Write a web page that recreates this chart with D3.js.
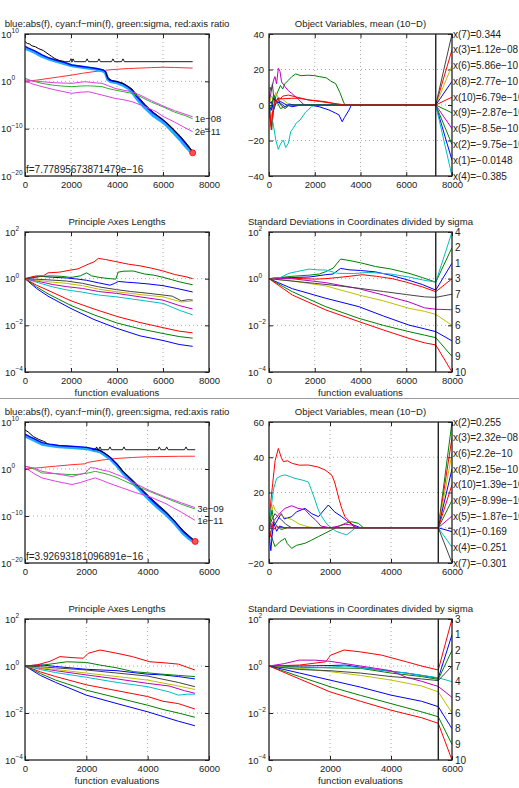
<!DOCTYPE html>
<html>
<head>
<meta charset="utf-8">
<script src="https://cdn.jsdelivr.net/npm/d3@7"></script>
<style>
  body { margin: 0; background: #fff; }
  svg { display: block; }
  text { font-family: "Liberation Sans", Arial, sans-serif; fill: #222; }
</style>
</head>
<body>
<svg id="chart" width="519" height="788"></svg>
<script>
// ---------- data (x = function evaluations, log panels hold log10 values) ----------
const topEvals = 7290;
const botEvals = 5550;

// run 1: f-values panel
const topBlue = [[0,7.4],[150,7.0],[400,6.5],[740,5.6],[1000,5.0],[1320,4.5],[1700,4.0],[2040,3.45],[2400,3.2],[2770,2.95],[3100,2.7],[3400,2.4],[3500,2.0],[3600,0.6],[3700,0.2],[4000,-0.1],[4220,-0.4],[4500,-1.2],[4650,-1.8],[4855,-3.2],[5200,-5.0],[5570,-6.7],[5900,-7.8],[6160,-8.8],[6450,-10.2],[6740,-11.7],[7000,-13.2],[7290,-14.9]];
const topCyan = [[0,7.0],[150,6.7],[400,6.2],[740,5.3],[1000,4.8],[1320,4.3],[1700,3.8],[2040,3.3],[2400,3.05],[2770,2.8],[3100,2.55],[3400,2.2],[3500,1.8],[3600,0.4],[3700,0.0],[4000,-0.3],[4220,-0.7],[4500,-1.5],[4650,-2.2],[4855,-3.6],[5200,-5.5],[5570,-7.2],[5900,-8.3],[6160,-9.3],[6450,-10.8],[6740,-12.3],[7000,-13.8],[7290,-15.3]];
const topBlackHead = [[0,8.4],[100,8.0],[200,7.9],[300,7.5],[450,7.3],[600,6.9],[800,6.5],[1000,5.8],[1150,5.3],[1300,4.8],[1500,4.4],[1700,4.2]];
const topBlackTail = [[3500,2.1],[3600,0.8],[3800,0.1],[4000,0.0],[4300,-0.5],[4650,-1.6],[4900,-3.1],[5200,-4.8],[5570,-6.5],[6000,-8.1],[6300,-9.4],[6740,-11.5],[7000,-13.0],[7290,-14.8]];
const topFlatLevel = 4.15;
const topFlatStart = 1700;
const topSpikes = [2000, 2087, 2700, 3217, 3826, 4260];
const topRed = [[0,0],[500,0.25],[1000,0.6],[1500,0.95],[2000,1.3],[2500,1.7],[3000,2.05],[3500,2.35],[4000,2.55],[4500,2.7],[5000,2.8],[5500,2.9],[6000,2.98],[6500,2.92],[7290,2.8]];
const topGreen = [[0,0.65],[300,0.1],[740,-0.43],[1200,-0.8],[1600,-1.0],[2040,-1.13],[2400,-1.0],[2700,-0.95],[3000,-1.0],[3350,-1.13],[3600,-1.5],[3910,-1.84],[4300,-2.2],[4650,-2.55],[5000,-3.2],[5500,-4.4],[6000,-5.4],[6500,-6.5],[7000,-7.3],[7290,-7.9]];
const topMagUp = [[0,0.3],[300,0.1],[740,-0.08],[1300,-0.3],[2040,-0.43],[2400,-0.2],[2620,-0.08],[3000,-0.3],[3350,-0.42],[3600,-0.9],[3910,-1.48],[4300,-1.9],[4650,-2.2],[5000,-2.9],[5500,-4.1],[6000,-5.2],[6500,-6.2],[7000,-7.0],[7290,-7.5]];
const topMagLow = [[0,0.1],[300,-0.5],[740,-1.13],[1300,-1.8],[2040,-2.54],[2400,-2.3],[2770,-2.2],[3100,-2.6],[3350,-2.9],[3910,-3.6],[4300,-3.9],[4650,-4.3],[5200,-5.3],[5700,-6.4],[6000,-7.4],[6500,-8.6],[7000,-9.9],[7290,-10.65]];
const topFinalF = -15.11;
const topFText = "f=7.77895673871479e\u221216";
const topSigmaText = "1e\u221208";
const topMinStdText = "2e\u221211";

// run 1: object variables (mean), x(1)..x(10)
const topX1 = [[0,0],[100,2],[200,-3],[300,1],[500,2],[700,0.5],[1000,-1],[1400,0],[1800,0],[2200,-1],[2620,-2.8],[2900,-4.5],[3060,-5.6],[3200,-9.4],[3300,-7],[3500,-2.8],[3600,0],[7290,0]];
const topX2 = [[0,0],[60,-8],[120,-14],[200,-3],[300,5],[400,8],[500,11],[600,9],[700,12],[850,14],[1000,16],[1167,17.5],[1400,16.5],[1700,16.8],[2000,16.5],[2200,16],[2500,15.3],[2700,13.5],[2916,12],[3100,7],[3280,1],[3350,0],[7290,0]];
const topX3 = [[0,0],[50,-8],[100,-14],[150,-5],[250,3],[400,2],[600,5],[843,5.6],[1200,4.5],[1720,2.8],[2200,2],[2740,1],[3000,0.3],[3100,0],[7290,0]];
const topX4 = [[0,0],[100,-5],[200,-12],[300,-20],[408,-25],[500,-22],[625,-19.7],[730,-24],[843,-21.6],[950,-15],[1060,-13.1],[1200,-10],[1355,-8.5],[1600,-4],[1865,-0.9],[2000,0],[7290,0]];
const topX5 = [[0,0],[100,8],[200,14],[260,16],[330,12],[408,20.7],[480,19],[550,13],[700,10.3],[850,8],[990,6.6],[1300,3],[1500,0.5],[1600,0],[7290,0]];
const topX6 = [[0,0],[100,5],[200,3],[300,7],[400,4],[600,3],[800,1],[1000,0],[7290,0]];
const topX7 = [[0,0],[50,10],[100,8],[150,12],[200,5],[300,2],[400,4],[500,0],[700,-2],[900,0],[7290,0]];
const topX8 = [[0,0],[100,-3],[200,4],[300,2],[500,1],[700,-1],[900,0.5],[1100,0],[7290,0]];
const topX9 = [[0,0],[100,-2],[200,6],[300,3],[500,-2],[700,-1],[900,0],[7290,0]];
const topX10 = [[0,0],[100,-12],[150,-6],[200,-1],[400,4],[600,3.5],[1000,3.8],[1280,3.8],[1800,2.8],[2450,1.9],[2800,1],[3120,0.4],[3300,0],[7290,0]];
const topVarOrder = [7, 3, 6, 8, 10, 9, 5, 2, 1, 4];
const topVarLabels = ["x(7)=0.344", "x(3)=1.12e\u221208", "x(6)=5.86e\u221210", "x(8)=2.77e\u221210", "x(10)=6.79e\u221210", "x(9)=\u22122.87e\u221210", "x(5)=\u22128.5e\u221210", "x(2)=\u22129.75e\u221210", "x(1)=\u22120.0148", "x(4)=\u22120.385"];

// run 1: principal axes lengths (sorted, smallest first)
const topAxes = [
  [[0,0],[500,-0.42],[1000,-0.75],[2000,-1.28],[3000,-1.75],[4000,-2.13],[5000,-2.45],[6000,-2.65],[6700,-2.82],[7290,-2.9]],
  [[0,0],[500,-0.35],[1000,-0.65],[2000,-1.15],[3000,-1.55],[4000,-1.9],[5000,-2.15],[6000,-2.35],[6700,-2.48],[7290,-2.55]],
  [[0,0],[500,-0.28],[1000,-0.5],[2000,-0.95],[3000,-1.3],[4000,-1.62],[5000,-1.88],[6000,-2.1],[6700,-2.25],[7290,-2.32]],
  [[0,0],[600,-0.18],[1200,-0.35],[1800,-0.48],[2500,-0.58],[3200,-0.7],[3980,-0.78],[5000,-0.92],[6000,-1.06],[6700,-1.35],[7290,-1.55]],
  [[0,0],[600,-0.12],[1200,-0.25],[1800,-0.34],[2500,-0.42],[3200,-0.55],[3980,-0.63],[5000,-0.78],[6000,-0.92],[6700,-1.15],[7290,-1.3]],
  [[0,0],[600,-0.08],[1200,-0.15],[1800,-0.2],[2500,-0.3],[3200,-0.45],[3980,-0.56],[5000,-0.68],[6000,-0.78],[6800,-1.0],[7290,-0.95]],
  [[0,0],[1000,-0.05],[1800,-0.1],[2500,-0.2],[3200,-0.35],[3980,-0.47],[4600,-0.55],[5300,-0.62],[6000,-0.7],[6400,-0.75],[6800,-0.95],[7100,-0.9],[7290,-0.92]],
  [[0,0],[400,0.05],[680,0.1],[1200,0.06],[1800,0.03],[2300,-0.02],[2680,-0.07],[3200,-0.18],[3700,-0.28],[3900,-0.2],[4060,-0.12],[4400,-0.15],[4700,-0.17],[5300,-0.22],[6000,-0.3],[6600,-0.42],[7290,-0.57]],
  [[0,0],[500,0.08],[1100,0.12],[1600,0.1],[2000,0.05],[2400,0.12],[2680,0.25],[2900,0.12],[3260,0.05],[3700,0.0],[3950,-0.02],[4050,0.28],[4300,0.32],[4700,0.33],[5200,0.2],[5600,0.15],[6000,0.06],[6400,-0.05],[6650,-0.12],[7000,-0.2],[7290,-0.26]],
  [[0,0],[300,0.08],[500,0.12],[800,0.12],[1000,0.25],[1500,0.28],[2000,0.37],[2300,0.42],[2680,0.59],[3000,0.72],[3190,0.87],[3500,0.82],[4000,0.72],[4500,0.62],[5000,0.55],[5500,0.45],[6000,0.33],[6500,0.18],[7000,0.08],[7290,0.0]]
];

// run 1: standard deviations per coordinate, coordinates 1..10
const topStd = [
  [[0,0],[500,0.02],[1000,0.05],[1750,0.07],[2480,0.17],[2800,0.2],[3130,0.44],[3500,0.38],[4000,0.35],[4660,0.29],[5300,0.15],[6120,-0.07],[6700,-0.25],[7290,-0.49]],
  [[0,0],[500,0.05],[1000,0.1],[1750,0.15],[2200,0.2],[2480,0.3],[2800,0.45],[3130,0.84],[3500,0.78],[4000,0.68],[4660,0.52],[5300,0.42],[6120,0.23],[6700,0.05],[7290,-0.15]],
  [[0,0],[500,0.05],[1000,0.02],[1500,0.0],[2000,-0.02],[2480,0.0],[3000,0.05],[3500,0.1],[4080,0.17],[4700,0.1],[5390,0.0],[6000,-0.15],[6700,-0.35],[7290,-0.56]],
  [[0,0],[500,0.05],[875,0.23],[1200,0.3],[1750,0.41],[2100,0.38],[2480,0.37],[3000,0.23],[3700,0.22],[4370,0.27],[5300,0.2],[6120,0.07],[6700,-0.05],[7290,-0.15]],
  [[0,0],[1000,0.0],[2480,-0.17],[3930,-0.43],[5000,-0.7],[6120,-1.0],[6800,-1.25],[7290,-1.31]],
  [[0,0],[1000,-0.1],[2480,-0.31],[3930,-0.7],[5000,-0.95],[6120,-1.27],[6800,-1.4],[7290,-1.53]],
  [[0,0],[1000,-0.1],[2000,-0.2],[3000,-0.3],[4000,-0.42],[5000,-0.55],[6000,-0.68],[6800,-0.78],[7290,-0.8]],
  [[0,0],[1020,-0.43],[2480,-0.84],[3930,-1.2],[5000,-1.6],[6120,-1.99],[6800,-2.15],[7290,-2.27]],
  [[0,0],[1020,-0.56],[2480,-1.2],[3930,-1.7],[5000,-2.0],[6120,-2.27],[6800,-2.42],[7290,-2.53]],
  [[0,0],[1020,-0.7],[2480,-1.34],[3930,-1.84],[5000,-2.2],[6120,-2.56],[6800,-2.75],[7290,-2.84]]
];
const topStdOrder = [4, 2, 1, 3, 7, 5, 6, 8, 9, 10];

// run 2: f-values panel
const botBlue = [[0,7.4],[150,6.9],[272,6.5],[555,5.6],[800,5.3],[1100,5.0],[1360,4.9],[1700,4.75],[2010,4.6],[2290,4.2],[2445,4.0],[2600,3.3],[2770,2.5],[3000,1.0],[3200,-0.6],[3530,-2.7],[3800,-4.4],[4070,-6.2],[4350,-7.9],[4620,-9.4],[4900,-11.3],[5160,-13.3],[5350,-14.4],[5540,-15.4]];
const botCyan = [[0,7.0],[150,6.6],[272,6.2],[555,5.3],[800,5.0],[1100,4.75],[1360,4.65],[1700,4.5],[2010,4.35],[2290,3.9],[2445,3.7],[2600,3.0],[2770,2.2],[3000,0.7],[3200,-0.9],[3530,-3.0],[3800,-4.8],[4070,-6.6],[4350,-8.3],[4620,-9.8],[4900,-11.7],[5160,-13.7],[5350,-14.8],[5540,-15.7]];
const botBlackHead = [[0,8.3],[100,7.9],[272,6.9],[450,6.3],[600,5.9],[700,5.6]];
const botBlackTail = [[2300,4.3],[2600,3.4],[2770,2.6],[3000,1.1],[3200,-0.5],[3530,-2.5],[4070,-6.0],[4620,-9.2],[5160,-13.1],[5540,-15.3]];
const botFlatLevel = 4.1;
const botFlatStart = 2200;
const botSpikes = [2336, 2445, 2771, 3227, 4380, 4620, 5250];
const botRed = [[0,0],[500,0.3],[1000,0.6],[1500,0.9],[1950,1.1],[2050,1.4],[2500,1.9],[3000,2.25],[3500,2.45],[4000,2.6],[5000,2.7],[5540,2.72]];
const botGreen = [[0,0.6],[300,0.0],[555,-0.85],[1000,-1.0],[1530,-1.2],[1800,-1.1],[2060,-0.85],[2290,-0.5],[2500,-0.8],[2730,-1.2],[3000,-1.8],[3160,-2.3],[3500,-3.3],[4070,-4.8],[4600,-6.2],[5100,-7.5],[5540,-8.5]];
const botMagUp = [[0,0.6],[300,0.2],[555,-0.5],[1000,-1.0],[1530,-1.6],[1965,-0.85],[2120,0.3],[2290,0.2],[2500,-0.2],[2730,-0.5],[3160,-1.6],[3530,-2.9],[4070,-4.6],[4600,-6.0],[5100,-7.2],[5540,-8.2]];
const botMagLow = [[0,0.3],[300,-1.0],[555,-1.9],[1000,-2.6],[1530,-3.3],[1800,-2.9],[2075,-2.3],[2290,-1.9],[2500,-2.4],[2730,-3.0],[3160,-4.0],[3600,-5.0],[4070,-5.9],[4600,-7.4],[5100,-9.2],[5540,-10.9]];
const botFinalF = -15.41;
const botFText = "f=3.92693181096891e\u221216";
const botSigmaText = "3e\u221209";
const botMinStdText = "1e\u221211";

// run 2: object variables (mean), x(1)..x(10)
const botX1 = [[0,0],[200,2],[400,8],[500,5],[745,6.3],[900,9],[1180,11],[1400,8],[1620,6.3],[1800,10],[1945,12.9],[2150,9],[2385,6.3],[2550,4],[2710,2],[3000,0],[5550,0]];
const botX2 = [[0,0],[100,-6],[197,-10.7],[350,-8],[525,-6],[600,-9],[745,-11.7],[900,-10],[1180,-8.8],[1400,-7],[1620,-5],[1850,-3],[2055,-1.2],[2300,1],[2500,2.5],[2710,3.4],[2930,2.5],[3100,0],[5550,0]];
const botX3 = [[0,0],[60,15],[120,25],[200,38],[306,45],[400,40],[470,37.5],[600,38],[765,36.5],[1000,35.5],[1290,35.6],[1600,34.5],[1836,32.8],[2055,30],[2150,26],[2220,21.4],[2300,16],[2385,11],[2490,6.3],[2655,3.4],[2800,0],[5550,0]];
const botX4 = [[0,0],[60,10],[150,22],[250,28],[400,29.5],[525,30],[700,29],[850,28],[1100,27],[1290,26],[1400,21],[1510,15.7],[1620,10],[1730,6.3],[1900,2],[2040,0],[2200,-2],[2385,-3.2],[2550,-4],[2700,-2],[2800,-0.5],[3000,0],[5550,0]];
const botX5 = [[0,0],[200,5],[400,9],[525,11],[745,12.5],[950,11],[1180,10.3],[1350,7],[1510,4.7],[1700,1],[2000,0],[2300,1],[2500,2],[2710,1.5],[2900,0],[5550,0]];
const botX6 = [[0,0],[80,8],[140,13],[200,10],[306,8],[500,6],[745,4.7],[1000,2],[1300,0.5],[1500,0],[5550,0]];
const botX7 = [[0,0],[100,5],[197,8],[300,6],[400,4.7],[550,2],[745,0],[5550,0]];
const botX8 = [[0,0],[30,-8],[60,-13],[100,-5],[150,3],[250,-2],[350,1],[500,0],[5550,0]];
const botX9 = [[0,0],[100,10],[150,4],[250,1],[400,-1],[600,0],[5550,0]];
const botX10 = [[0,0],[50,-5],[100,2],[150,-1],[250,0.5],[400,0],[5550,0]];
const botVarOrder = [2, 3, 6, 8, 10, 9, 5, 1, 4, 7];
const botVarLabels = ["x(2)=0.255", "x(3)=2.32e\u221208", "x(6)=2.2e\u221210", "x(8)=2.15e\u221210", "x(10)=1.39e\u221210", "x(9)=\u22128.99e\u221210", "x(5)=\u22121.87e\u221210", "x(1)=\u22120.169", "x(4)=\u22120.251", "x(7)=\u22120.301"];

// run 2: principal axes lengths (sorted, smallest first)
const botAxes = [
  [[0,0],[500,-0.4],[1000,-0.7],[2000,-1.24],[3000,-1.6],[4000,-1.95],[4500,-2.15],[5000,-2.35],[5540,-2.54]],
  [[0,0],[500,-0.32],[1000,-0.6],[2000,-1.03],[3000,-1.35],[4000,-1.67],[4500,-1.85],[5000,-2.0],[5540,-2.18]],
  [[0,0],[500,-0.25],[1000,-0.45],[2000,-0.8],[3000,-1.05],[4000,-1.3],[4500,-1.5],[5000,-1.6],[5540,-1.83]],
  [[0,0],[500,-0.15],[1000,-0.28],[2000,-0.48],[3000,-0.7],[4000,-0.88],[4700,-1.1],[5000,-1.24],[5300,-1.2],[5540,-1.2]],
  [[0,0],[500,-0.1],[1000,-0.2],[2000,-0.38],[3000,-0.55],[4000,-0.74],[4700,-0.85],[5200,-1.05],[5540,-1.16]],
  [[0,0],[500,-0.08],[1000,-0.15],[2000,-0.3],[3000,-0.45],[4000,-0.6],[5000,-0.85],[5540,-1.0]],
  [[0,0],[500,-0.03],[1000,-0.08],[2000,-0.17],[3000,-0.3],[4000,-0.43],[5000,-0.7],[5540,-0.88]],
  [[0,0],[500,0.05],[1000,-0.02],[2000,-0.14],[3000,-0.2],[4000,-0.35],[4500,-0.38],[5000,-0.45],[5540,-0.55]],
  [[0,0],[500,0.02],[815,0.08],[1360,0.18],[2000,0.15],[2445,0.04],[3000,-0.08],[3530,-0.24],[4500,-0.35],[5000,-0.4],[5540,-0.45]],
  [[0,0],[400,0.05],[815,0.2],[1140,0.4],[1500,0.36],[1900,0.33],[2060,0.54],[2445,0.68],[3000,0.54],[3500,0.4],[4070,0.18],[4500,0.14],[5000,0.08],[5540,-0.17]]
];

// run 2: standard deviations per coordinate, coordinates 1..10
const botStd = [
  [[0,0],[1000,0.0],[2000,0.02],[2500,0.04],[3500,-0.15],[4500,-0.3],[5000,-0.4],[5550,-0.52]],
  [[0,0],[1000,-0.05],[2000,-0.08],[3000,-0.1],[4000,-0.3],[5000,-0.45],[5550,-0.57]],
  [[0,0],[1000,0.04],[1860,0.18],[2020,0.46],[2460,0.68],[3000,0.6],[3700,0.46],[4500,0.18],[5000,0.0],[5550,-0.17]],
  [[0,0],[1000,-0.1],[2000,-0.05],[2500,0.0],[3500,-0.15],[4500,-0.3],[5550,-0.5]],
  [[0,0],[500,0.1],[985,0.25],[1500,0.25],[2000,0.2],[3000,0.0],[4000,-0.2],[4500,-0.48],[5000,-0.65],[5550,-0.87]],
  [[0,0],[1000,-0.1],[2000,-0.24],[3000,-0.4],[4000,-0.6],[5000,-0.85],[5550,-1.1]],
  [[0,0],[1000,-0.15],[2000,-0.2],[3000,-0.3],[4000,-0.45],[5000,-0.55],[5550,-0.62]],
  [[0,0],[1000,-0.3],[2000,-0.6],[3000,-0.9],[4000,-1.24],[5000,-1.5],[5550,-1.73]],
  [[0,0],[1000,-0.45],[2000,-0.88],[3000,-1.25],[4000,-1.6],[5000,-1.95],[5550,-2.16]],
  [[0,0],[1000,-0.55],[2000,-1.1],[3000,-1.5],[4000,-1.88],[5000,-2.2],[5550,-2.44]]
];
const botStdOrder = [3, 1, 2, 7, 4, 5, 6, 8, 9, 10];

const topXTicks = [0, 2000, 4000, 6000, 8000];
const botXTicks = [0, 2000, 4000, 6000];
const fTicks = [10, 0, -10, -20];
const axTicks = [2, 0, -2, -4];
const topVarTicks = [40, 20, 0, -20, -40];
const botVarTicks = [60, 40, 20, 0, -20];

const titleF = "blue:abs(f), cyan:f\u2212min(f), green:sigma, red:axis ratio";
const titleVars = "Object Variables, mean (10\u2212D)";
const titleAxes = "Principle Axes Lengths";
const titleStd = "Standard Deviations in Coordinates divided by sigma";
const xLabel = "function evaluations";

// ---------- drawing ----------
const colors = { b: "#0000ff", g: "#008000", r: "#ff0000", c: "#00bfbf", m: "#bf00bf", y: "#bfbf00", k: "#444444" };
const cycle = ["b", "g", "r", "c", "m", "y", "k"];
const colorOf = i => colors[cycle[(i - 1) % 7]];
const minus = s => String(s).replace("-", "\u2212");

const svg = d3.select("#chart");
svg.append("rect").attr("width", 519).attr("height", 788).attr("fill", "#fff");
let clipCount = 0;

function drawPanel(o) {
  const x = d3.scaleLinear().domain([0, o.xMax]).range([o.left, o.left + o.w]);
  const y = o.log
    ? d3.scaleLog().domain([10 ** o.yMin, 10 ** o.yMax]).range([o.top + o.h, o.top])
    : d3.scaleLinear().domain([o.yMin, o.yMax]).range([o.top + o.h, o.top]);
  const yv = o.log ? (v => y(10 ** v)) : (v => y(v));
  const yTickVals = o.log ? o.yTicks.map(e => 10 ** e) : o.yTicks;
  const g = svg.append("g");

  // dotted grid
  const grid = g.append("g").attr("stroke", "#a8a8a8").attr("stroke-dasharray", "1,3");
  o.xTicks.slice(1, -1).forEach(t => grid.append("line")
    .attr("x1", x(t)).attr("x2", x(t)).attr("y1", o.top).attr("y2", o.top + o.h));
  o.yTicks.slice(1, -1).forEach(t => grid.append("line")
    .attr("x1", o.left).attr("x2", o.left + o.w).attr("y1", yv(t)).attr("y2", yv(t)));

  // inward ticks on every side
  const axB = g.append("g").attr("transform", `translate(0,${o.top + o.h})`)
    .call(d3.axisBottom(x).tickValues(o.xTicks).tickSize(-4).tickPadding(5).tickFormat(d3.format("d")));
  axB.selectAll("text").attr("font-size", "9.5px").attr("fill", "#222")
    .attr("font-family", "Liberation Sans, Arial, sans-serif");
  g.append("g").attr("transform", `translate(0,${o.top})`)
    .call(d3.axisTop(x).tickValues(o.xTicks).tickSize(-4).tickFormat(""));
  g.append("g").attr("transform", `translate(${o.left},0)`)
    .call(d3.axisLeft(y).tickValues(yTickVals).tickSize(-4).tickFormat(""));
  g.append("g").attr("transform", `translate(${o.left + o.w},0)`)
    .call(d3.axisRight(y).tickValues(yTickVals).tickSize(-4).tickFormat(""));
  g.selectAll(".domain").remove();
  g.selectAll(".tick line").attr("stroke", "#222");

  // y tick labels
  o.yTicks.forEach(t => {
    if (o.log) {
      const tx = g.append("text").attr("x", o.yLabX).attr("y", yv(t) + 3.5).attr("font-size", "9.5px");
      tx.append("tspan").text("10");
      tx.append("tspan").attr("dy", -4.5).attr("font-size", "6.5px").text(minus(t));
    } else {
      g.append("text").attr("x", o.left - 5).attr("y", yv(t) + 3.5)
        .attr("text-anchor", "end").attr("font-size", "9.5px").text(minus(t));
    }
  });

  g.append("text").attr("x", o.left + o.w / 2).attr("y", o.top - 7.5)
    .attr("text-anchor", "middle").attr("font-size", "9.6px").text(o.title);
  if (o.xLabel) {
    g.append("text").attr("x", o.left + o.w / 2).attr("y", o.top + o.h + 24)
      .attr("text-anchor", "middle").attr("font-size", "9.6px").text(o.xLabel);
  }

  const id = "clip" + (clipCount++);
  svg.append("clipPath").attr("id", id).append("rect")
    .attr("x", o.left).attr("y", o.top).attr("width", o.w).attr("height", o.h);
  const plot = g.append("g").attr("clip-path", `url(#${id})`);
  const line = d3.line().x(d => x(d[0])).y(d => yv(d[1]));
  const frame = () => g.append("rect").attr("x", o.left).attr("y", o.top)
    .attr("width", o.w).attr("height", o.h).attr("fill", "none").attr("stroke", "#222").attr("stroke-width", 1.3);
  return { g, plot, x, yv, line, frame, o };
}

function addPath(p, data, color, width) {
  p.plot.append("path").datum(data).attr("d", p.line)
    .attr("fill", "none").attr("stroke", color).attr("stroke-width", width || 1)
    .attr("stroke-linejoin", "round");
}

function flatWithSpikes(start, end, level, spikes, half) {
  const pts = [[start, level]];
  spikes.forEach(s => { pts.push([s - half, level], [s, level + 0.6], [s + half, level]); });
  pts.push([end, level]);
  return pts;
}

function fPanel(o, d) {
  const p = drawPanel(o);
  addPath(p, d.red, "#ff3030", 1);
  addPath(p, d.cyan, "#22aaff", 3.2);
  addPath(p, d.blue, "#0000ff", 1.4);
  addPath(p, d.blackHead, "#000", 1);
  addPath(p, d.blackTail, "#000", 0.9);
  addPath(p, flatWithSpikes(d.flatStart, d.evals, d.flatLevel, d.spikes, o.xMax * 0.008), "#000", 0.9);
  addPath(p, d.green, "#33b033", 1);
  addPath(p, d.magUp, "#e040e0", 1);
  addPath(p, d.magLow, "#e040e0", 1);
  p.plot.append("circle").attr("cx", p.x(d.evals)).attr("cy", p.yv(d.finalF)).attr("r", 3)
    .attr("fill", "#ff5050").attr("stroke", "#ff0000").attr("stroke-width", 0.8);
  p.frame();
  const endG = d.green[d.green.length - 1], endM = d.magLow[d.magLow.length - 1];
  p.g.append("text").attr("x", p.x(d.evals) + 2).attr("y", p.yv(endG[1]) + 3.5).attr("font-size", "9.5px").text(d.sigmaText);
  p.g.append("text").attr("x", p.x(d.evals) + 2).attr("y", p.yv(endM[1]) + 3.5).attr("font-size", "9.5px").text(d.minStdText);
  p.g.append("text").attr("x", o.left + 1).attr("y", o.top + o.h - 3).attr("font-size", "10px").text(d.fText);
}

function fanPanel(o, series, order, labels, evals) {
  const p = drawPanel(o);
  const step = (o.yMax - o.yMin) / (order.length - 1);
  series.forEach((s, i) => {
    const idx = i + 1;
    const k = order.indexOf(idx);
    const last = s[s.length - 1];
    addPath(p, s, colorOf(idx), 1);
    addPath(p, [[evals, last[1]], [o.xMax, o.yMax - k * step]], colorOf(idx), 1);
  });
  p.plot.append("line").attr("x1", p.x(evals)).attr("x2", p.x(evals))
    .attr("y1", o.top).attr("y2", o.top + o.h).attr("stroke", "#111").attr("stroke-width", 1.3);
  p.frame();
  order.forEach((idx, k) => {
    p.g.append("text").attr("x", o.left + o.w + o.labDx).attr("y", p.yv(o.yMax - k * step) + 3.5)
      .attr("font-size", o.labSize).text(labels[k]);
  });
}

function axesPanel(o, series) {
  const p = drawPanel(o);
  series.forEach((s, i) => addPath(p, s, colorOf(i + 1), 1));
  p.frame();
}

// ----- run 1 -----
fPanel({ left: 25, top: 34, w: 184, h: 142, xMax: 8000, xTicks: topXTicks, log: true, yMin: -20, yMax: 10, yTicks: fTicks, yLabX: 1, title: titleF },
  { blue: topBlue, cyan: topCyan, blackHead: topBlackHead, blackTail: topBlackTail, flatStart: topFlatStart, flatLevel: topFlatLevel, spikes: topSpikes,
    red: topRed, green: topGreen, magUp: topMagUp, magLow: topMagLow, evals: topEvals, finalF: topFinalF, fText: topFText, sigmaText: topSigmaText, minStdText: topMinStdText });
fanPanel({ left: 269, top: 34, w: 183, h: 142, xMax: 8000, xTicks: topXTicks, log: false, yMin: -40, yMax: 40, yTicks: topVarTicks, title: titleVars, labDx: 1, labSize: "10px" },
  [topX1, topX2, topX3, topX4, topX5, topX6, topX7, topX8, topX9, topX10], topVarOrder, topVarLabels, topEvals);
axesPanel({ left: 25, top: 232, w: 184, h: 140, xMax: 8000, xTicks: topXTicks, log: true, yMin: -4, yMax: 2, yTicks: axTicks, yLabX: 5, title: titleAxes, xLabel: xLabel }, topAxes);
fanPanel({ left: 269, top: 232, w: 183, h: 140, xMax: 8000, xTicks: topXTicks, log: true, yMin: -4, yMax: 2, yTicks: axTicks, yLabX: 248, title: titleStd, xLabel: xLabel, labDx: 3, labSize: "10px" },
  topStd, topStdOrder, topStdOrder.map(String), topEvals);

// separator between the two figures
svg.append("line").attr("x1", 0).attr("x2", 519).attr("y1", 398.5).attr("y2", 398.5).attr("stroke", "#999");

// ----- run 2 -----
fPanel({ left: 25, top: 422, w: 184, h: 141, xMax: 6000, xTicks: botXTicks, log: true, yMin: -20, yMax: 10, yTicks: fTicks, yLabX: 1, title: titleF },
  { blue: botBlue, cyan: botCyan, blackHead: botBlackHead, blackTail: botBlackTail, flatStart: botFlatStart, flatLevel: botFlatLevel, spikes: botSpikes,
    red: botRed, green: botGreen, magUp: botMagUp, magLow: botMagLow, evals: botEvals, finalF: botFinalF, fText: botFText, sigmaText: botSigmaText, minStdText: botMinStdText });
fanPanel({ left: 269, top: 422, w: 183, h: 141, xMax: 6000, xTicks: botXTicks, log: false, yMin: -20, yMax: 60, yTicks: botVarTicks, title: titleVars, labDx: 1, labSize: "10px" },
  [botX1, botX2, botX3, botX4, botX5, botX6, botX7, botX8, botX9, botX10], botVarOrder, botVarLabels, botEvals);
axesPanel({ left: 25, top: 619, w: 184, h: 141, xMax: 6000, xTicks: botXTicks, log: true, yMin: -4, yMax: 2, yTicks: axTicks, yLabX: 5, title: titleAxes, xLabel: xLabel }, botAxes);
fanPanel({ left: 269, top: 619, w: 183, h: 141, xMax: 6000, xTicks: botXTicks, log: true, yMin: -4, yMax: 2, yTicks: axTicks, yLabX: 248, title: titleStd, xLabel: xLabel, labDx: 3, labSize: "10px" },
  botStd, botStdOrder, botStdOrder.map(String), botEvals);
</script>
</body>
</html>
